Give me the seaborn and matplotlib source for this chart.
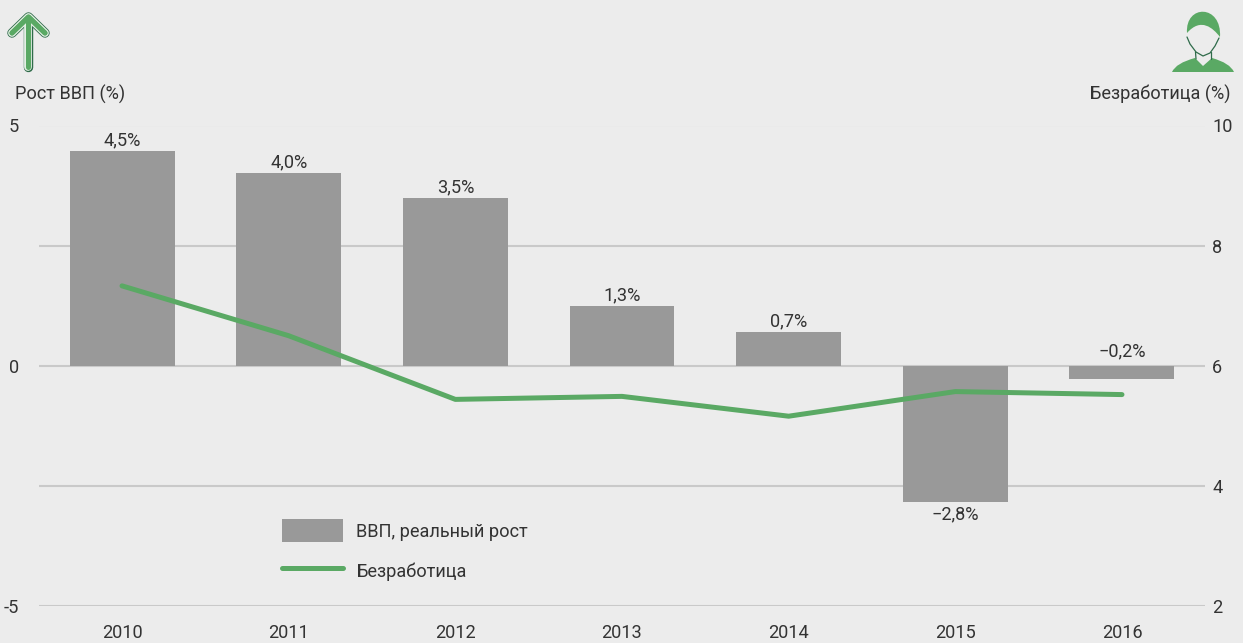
# -*- coding: utf-8 -*-
import matplotlib
matplotlib.use('Agg')
import matplotlib.pyplot as plt
from matplotlib.patches import PathPatch, Patch
from matplotlib.path import Path
import seaborn as sns
import pandas as pd

years = ['2010', '2011', '2012', '2013', '2014', '2015', '2016']
gdp = [4.47, 4.02, 3.5, 1.25, 0.7, -2.83, -0.27]
gdp_labels = ['4,5%', '4,0%', '3,5%', '1,3%', '0,7%', '−2,8%', '−0,2%']
unemp = [7.33, 6.5, 5.44, 5.49, 5.16, 5.57, 5.52]

BG = '#ececec'
GREEN = '#5aa964'
DARK_GREEN = '#2f6b4a'
BAR = '#999999'
TEXT = '#333333'
GRID = '#c9c9c9'
FS = 13.1

sns.set_style("white")
plt.rcParams['font.family'] = ['Roboto', 'DejaVu Sans']

W, H = 1243, 643
fig = plt.figure(figsize=(W / 100, H / 100), dpi=100, facecolor=BG)
ax = fig.add_axes([38.7 / W, 1 - 606 / H, (1205.3 - 38.7) / W, 480.5 / H], facecolor=BG)

df = pd.DataFrame({'year': years, 'gdp': gdp, 'unemp': unemp})
sns.barplot(data=df, x='year', y='gdp', color=BAR, saturation=1, width=0.63, ax=ax, zorder=3,
            linewidth=0, edgecolor='none')
ax.set_ylim(-5, 5)
ax.set_xlim(-0.5, 6.5)
ax.set_yticks([-5, -2.5, 0, 2.5, 5])
ax.set_yticklabels(['-5', '', '0', '', '5'], fontsize=FS, color=TEXT)
ax.grid(axis='y', color=GRID, lw=1.5, zorder=0)
ax.set_axisbelow(True)
ax.tick_params(axis='x', length=0, pad=13, labelsize=FS, labelcolor=TEXT)
ax.tick_params(axis='y', length=0, pad=14)
ax.set_xlabel('')
ax.set_ylabel('')
sns.despine(ax=ax, left=True, bottom=True)

# подписи столбцов
for i, (v, lab) in enumerate(zip(gdp, gdp_labels)):
    if v < -1:
        ax.text(i, v - 0.08, lab, ha='center', va='top', fontsize=FS, color=TEXT, zorder=5)
    elif v < 0:
        ax.text(i, 0.12, lab, ha='center', va='bottom', fontsize=FS, color=TEXT, zorder=5)
    else:
        ax.text(i, v + 0.03, lab, ha='center', va='bottom', fontsize=FS, color=TEXT, zorder=5)

ax2 = ax.twinx()
sns.lineplot(data=df, x='year', y='unemp', color=GREEN, lw=3.6, ax=ax2, zorder=4,
             solid_capstyle='round')
ax2.set_ylim(2, 10)
ax2.set_yticks([2, 4, 6, 8, 10])
ax2.tick_params(axis='y', length=0, pad=5, labelsize=FS, labelcolor=TEXT)
ax2.set_ylabel('')
sns.despine(ax=ax2, left=True, bottom=True, right=True)

# легенда
handles = [Patch(fc=BAR, ec='none'), ax2.get_lines()[0]]
fig.legend(handles, ['ВВП, реальный рост', 'Безработица'],
           loc='upper left', bbox_to_anchor=(282 / W, 1 - 519 / H), frameon=False,
           fontsize=FS, labelcolor=TEXT, handlelength=3.35, handleheight=1.59,
           labelspacing=0.93, handletextpad=0.72, borderpad=0, borderaxespad=0)

fig.text(15 / W, 1 - 94.5 / H, 'Рост ВВП (%)', fontsize=FS, color=TEXT, ha='left', va='center')
fig.text(1230 / W, 1 - 94.5 / H, 'Безработица (%)', fontsize=FS, color=TEXT, ha='right', va='center')

# значки в пикселях
icons = fig.add_axes([0, 0, 1, 1], facecolor='none')
icons.set_xlim(0, W)
icons.set_ylim(H, 0)
icons.axis('off')

# стрелка: три слоя обводки
arrow_x = [12, 28.5, 45]
arrow_y = [33, 17, 33]
for lw, col in [(6.8, DARK_GREEN), (5.6, '#e3efe4'), (3.6, GREEN)]:
    icons.plot(arrow_x, arrow_y, color=col, lw=lw, solid_capstyle='round', solid_joinstyle='round')
    icons.plot([28.5, 28.5], [18, 67], color=col, lw=lw, solid_capstyle='round')
icons.plot(arrow_x, arrow_y, color=GREEN, lw=3.6, solid_capstyle='round', solid_joinstyle='round')

# человек
C3, C4, M, L = Path.CURVE3, Path.CURVE4, Path.MOVETO, Path.LINETO
shoulders = Path([(1172, 72), (1176, 63), (1195, 58), (1203, 66), (1212, 58), (1230, 63), (1234, 72),
                  (1172, 72)],
                 [M, C3, C3, L, L, C3, C3, L])
icons.add_patch(PathPatch(shoulders, fc=GREEN, ec='none'))
hair = Path([(1187, 33), (1185, 4), (1222, 4), (1220, 37), (1213, 28), (1201, 17), (1187, 33)],
            [M, C4, C4, C4, C4, C4, C4])
icons.add_patch(PathPatch(hair, fc=GREEN, ec='none'))
icons.plot([1187, 1190, 1196, 1203, 1210, 1215, 1219], [37, 44, 52, 56, 53, 46, 38],
           color=DARK_GREEN, lw=0.9)
icons.plot([1195.5, 1196], [52, 59], color=DARK_GREEN, lw=0.9)
icons.plot([1211, 1211], [52, 59], color=DARK_GREEN, lw=0.9)

fig.savefig('out.png', dpi=100, facecolor=BG)
